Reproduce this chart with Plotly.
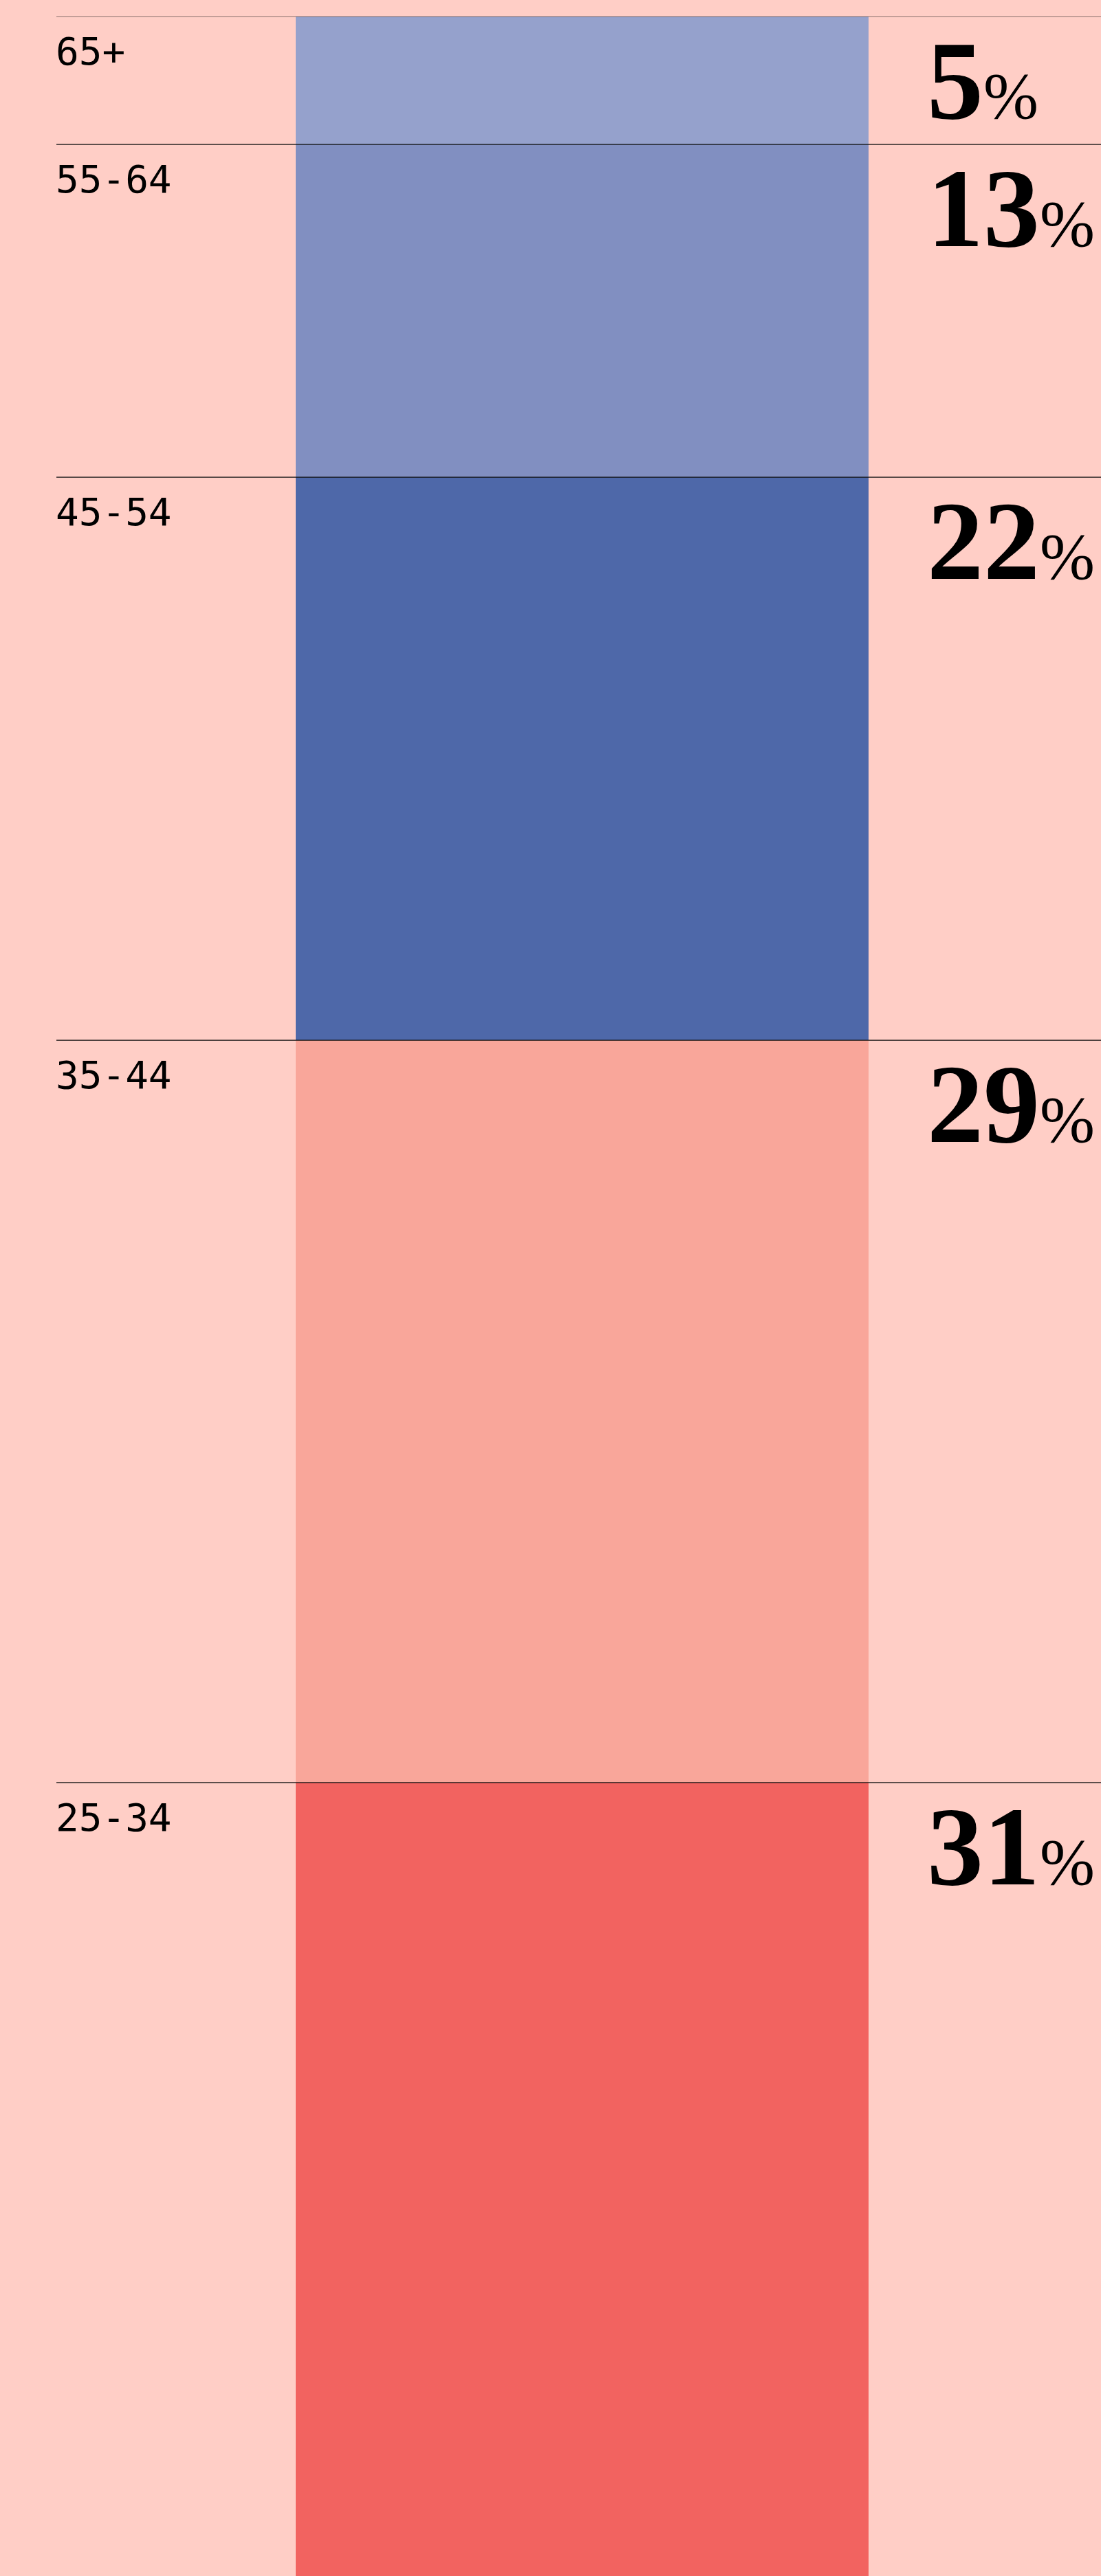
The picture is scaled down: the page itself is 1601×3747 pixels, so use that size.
import numpy as np
import plotly.graph_objects as go

# ---- data ----
age_groups = ["65+", "55-64", "45-54", "35-44", "25-34"]
shares = [5, 13, 22, 29, 31]

# ---- styles ----
bar_colors = ["#95A1CC", "#818FC1", "#4E68A9", "#F9A69A", "#F26360"]
BG = "#FFCEC6"
W, H = 1601, 3747

fig = go.Figure()
for name, val, col in zip(age_groups, shares, bar_colors):
    fig.add_trace(go.Bar(
        x=[0], y=[val], name=name, width=1,
        marker=dict(color=col, line=dict(width=0)),
        hoverinfo="name+y", showlegend=False,
    ))

starts = np.concatenate([[0], np.cumsum(shares)[:-1]])

# scale so the bar spans roughly x=430..1263 px
bar_left_px, bar_right_px = 430, 1263
ppu = bar_right_px - bar_left_px
x_range = [-0.5 - bar_left_px / ppu, 0.5 + (W - bar_right_px) / ppu]

shapes = []
annotations = []
for name, val, s in zip(age_groups, shares, starts):
    shapes.append(dict(type="line", xref="paper", yref="y",
                       x0=82 / W, x1=1, y0=s, y1=s,
                       line=dict(color="#111111", width=1.2), layer="above"))
    annotations.append(dict(
        xref="paper", yref="y", x=79 / W, y=s, xanchor="left", yanchor="top",
        yshift=-16, showarrow=False, text=name,
        font=dict(family="DejaVu Sans Mono", size=56, color="#000000"),
    ))
    annotations.append(dict(
        xref="paper", yref="y", x=1346 / W, y=s, xanchor="left", yanchor="top",
        yshift=0, showarrow=False,
        text=f"<b>{val}</b><span style='font-size:96px'>%</span>",
        font=dict(family="Liberation Serif", size=164, color="#000000"),
    ))

fig.update_layout(
    width=W, height=H,
    margin=dict(l=0, r=0, t=24, b=0, pad=0),
    barmode="stack", bargap=0,
    paper_bgcolor=BG, plot_bgcolor=BG,
    xaxis=dict(range=x_range, visible=False, showgrid=False, zeroline=False, fixedrange=True),
    yaxis=dict(range=[100, 0], visible=False, showgrid=False, zeroline=False, fixedrange=True),
    shapes=shapes, annotations=annotations,
)

fig.write_html("out.html", config={"displayModeBar": False},
               post_script="document.body.style.margin='0';document.body.style.overflow='hidden';")
